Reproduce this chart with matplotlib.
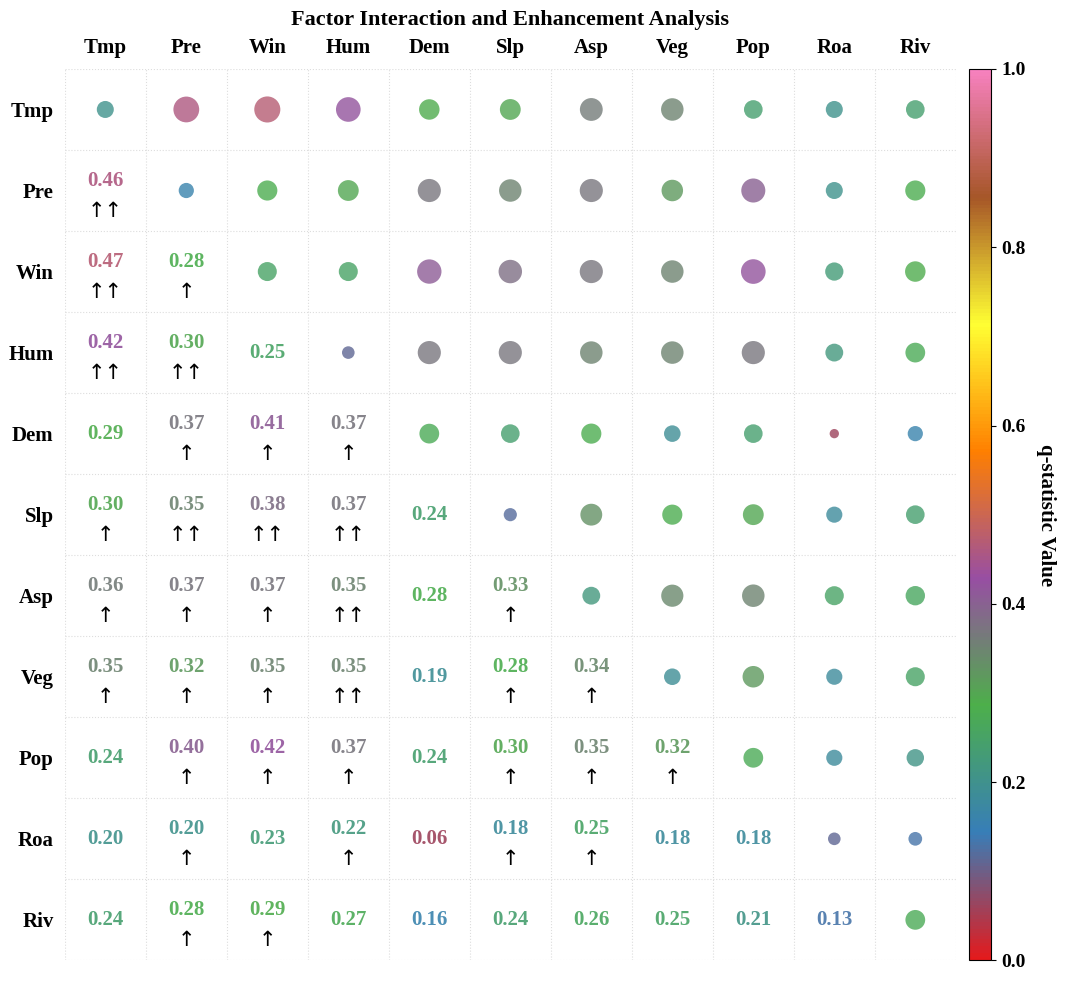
import numpy as np
import matplotlib.pyplot as plt
from matplotlib.colors import LinearSegmentedColormap

plt.rcParams['font.family'] = ['Liberation Serif', 'DejaVu Serif']
plt.rcParams['font.weight'] = 'bold'

factors = ['Tmp', 'Pre', 'Win', 'Hum', 'Dem', 'Slp', 'Asp', 'Veg', 'Pop', 'Roa', 'Riv']

# single-factor q (diagonal)
diag_q = [0.20, 0.16, 0.25, 0.11, 0.27, 0.12, 0.22, 0.19, 0.27, 0.11, 0.27]

# interaction q, lower triangle rows (row i has i values)
lower_q = [
    [],
    [0.46],
    [0.47, 0.28],
    [0.42, 0.30, 0.25],
    [0.29, 0.37, 0.41, 0.37],
    [0.30, 0.35, 0.38, 0.37, 0.24],
    [0.36, 0.37, 0.37, 0.35, 0.28, 0.33],
    [0.35, 0.32, 0.35, 0.35, 0.19, 0.28, 0.34],
    [0.24, 0.40, 0.42, 0.37, 0.24, 0.30, 0.35, 0.32],
    [0.20, 0.20, 0.23, 0.22, 0.06, 0.18, 0.25, 0.18, 0.18],
    [0.24, 0.28, 0.29, 0.27, 0.16, 0.24, 0.26, 0.25, 0.21, 0.13],
]

# enhancement marks: 2 = nonlinear (↑↑), 1 = bivariate (↑), 0 = none
lower_arrow = [
    [],
    [2],
    [2, 1],
    [2, 2, 0],
    [0, 1, 1, 1],
    [1, 2, 2, 2, 0],
    [1, 1, 1, 2, 0, 1],
    [1, 1, 1, 2, 0, 1, 1],
    [0, 1, 1, 1, 0, 1, 1, 1],
    [0, 1, 0, 1, 0, 1, 1, 0, 0],
    [0, 1, 1, 0, 0, 0, 0, 0, 0, 0],
]

n = len(factors)
q = np.zeros((n, n))
for i in range(n):
    q[i, i] = diag_q[i]
    for j, v in enumerate(lower_q[i]):
        q[i, j] = v
        q[j, i] = v

set1 = ['#e41a1c', '#377eb8', '#4daf4a', '#984ea3', '#ff7f00', '#ffff33', '#a65628', '#f781bf']
cmap = LinearSegmentedColormap.from_list('set1c', set1)
norm = plt.Normalize(0, 1)

fig = plt.figure(figsize=(10.8, 9.85), dpi=100)
ax = fig.add_axes([0.06, 0.025, 0.825, 0.905])
cax = fig.add_axes([0.897, 0.025, 0.021, 0.905])

# upper triangle + diagonal: circles
xs, ys, vs = [], [], []
for i in range(n):
    for j in range(i, n):
        xs.append(j)
        ys.append(i)
        vs.append(q[i, j])
vs = np.array(vs)
ax.scatter(xs, ys, s=vs * 750, c=vs, cmap=cmap, norm=norm, alpha=0.8,
           edgecolors='none', zorder=3)

# lower triangle: numbers and arrows
for i in range(n):
    for j, v in enumerate(lower_q[i]):
        a = lower_arrow[i][j]
        dy = -0.12 if a else 0
        ax.text(j, i + dy, f'{v:.2f}', ha='center', va='center', fontsize=15,
                fontweight='bold', color=cmap(norm(v)), alpha=0.9)
        if a:
            ax.text(j, i + 0.25, '↑' * a, ha='center', va='center', fontsize=15,
                    fontweight='normal', color='black', family='DejaVu Sans')

ax.set_xlim(-0.5, n - 0.5)
ax.set_ylim(n - 0.5, -0.5)
ax.set_xticks(range(n))
ax.set_xticklabels(factors, fontsize=15, fontweight='bold')
ax.set_yticks(range(n))
ax.set_yticklabels(factors, fontsize=15, fontweight='bold')
ax.xaxis.tick_top()
ax.tick_params(length=0, pad=8)
ax.set_xticks(np.arange(-0.5, n, 1), minor=True)
ax.set_yticks(np.arange(-0.5, n, 1), minor=True)
ax.grid(which='minor', color='#dddddd', linestyle=':', linewidth=0.8)
ax.tick_params(which='minor', length=0)
for s in ax.spines.values():
    s.set_visible(False)
ax.set_title('Factor Interaction and Enhancement Analysis', fontsize=16,
             fontweight='bold', pad=32)

sm = plt.cm.ScalarMappable(cmap=cmap, norm=norm)
cb = fig.colorbar(sm, cax=cax)
cb.set_label('q-statistic Value', fontsize=15, fontweight='bold', rotation=270, labelpad=22)
cb.ax.tick_params(labelsize=14)
cb.set_ticks([0, 0.2, 0.4, 0.6, 0.8, 1.0])

fig.savefig('out.png', dpi=100)
